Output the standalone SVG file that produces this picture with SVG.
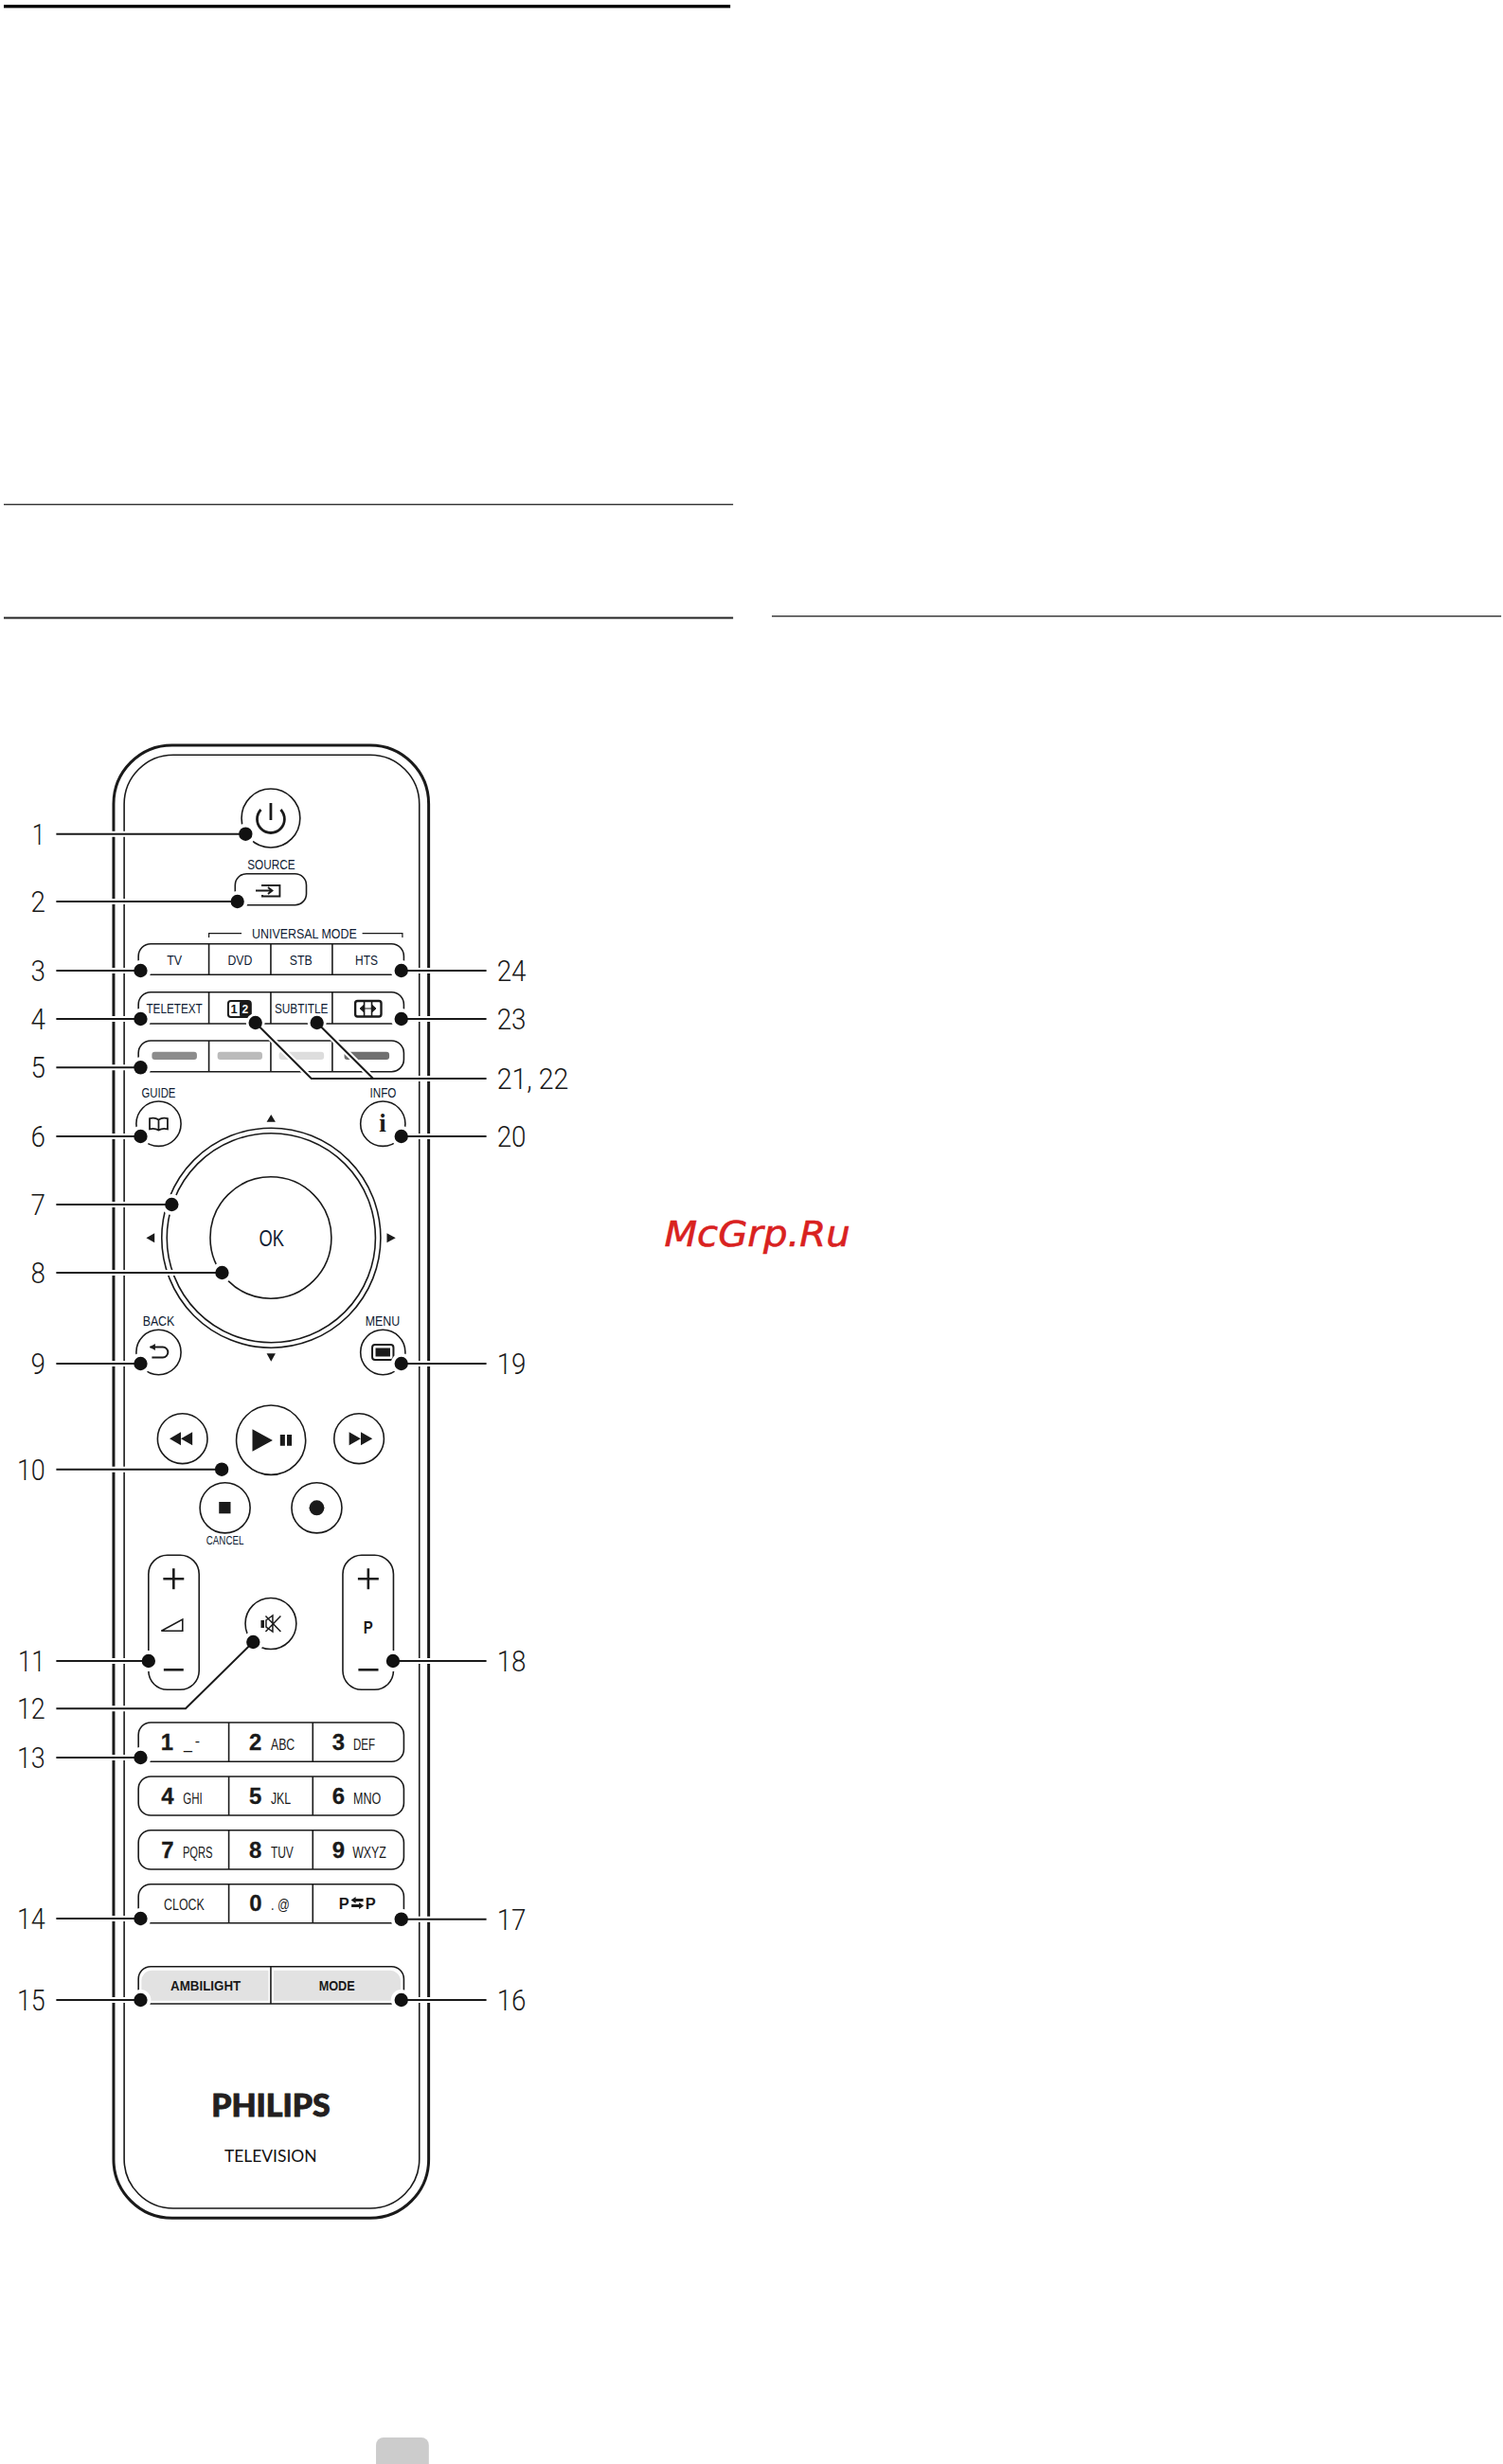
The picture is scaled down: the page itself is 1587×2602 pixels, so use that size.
<svg xmlns="http://www.w3.org/2000/svg" width="1587" height="2602" viewBox="0 0 1587 2602">
<style>
.o{fill:none;stroke:#1a1a1a;stroke-width:1.6}
.f{fill:#1a1a1a;stroke:none}
.ln{fill:none;stroke:#1a1a1a;stroke-width:2}
.halo{fill:none;stroke:#fff;stroke-width:6}
.t{font-family:"Liberation Sans Narrow","Liberation Sans",sans-serif;font-size:15.500px;fill:#0f1c33;text-anchor:middle}
.b{font-family:"Liberation Sans",sans-serif;font-weight:700;fill:#1a1a1a}
.d{font-family:"Liberation Sans",sans-serif;font-weight:700;font-size:24px;fill:#1a1a1a;stroke:#1a1a1a;stroke-width:.3;text-anchor:middle}
.s{font-family:"Liberation Sans Narrow","Liberation Sans",sans-serif;font-size:16px;fill:#1a1a1a}
.n{font-family:Roboto,Lato,sans-serif;font-weight:300;font-size:31px;fill:#1a1a1a}
.e{text-anchor:end}
</style>
<defs>
<path id="plus" d="M-11 0H11M0 -11V11" fill="none" stroke="#1a1a1a" stroke-width="2.600"/>
</defs>
<g transform="scale(.9963 1)">
<g id="page">
<rect x="4" y="5" width="770" height="3.400" fill="#000"/>
<rect x="4" y="532" width="773" height="1.400" fill="#333"/>
<rect x="4" y="651.500" width="773" height="2" fill="#222"/>
<rect x="818" y="650" width="773" height="1.400" fill="#333"/>
<text id="watermark" x="704" y="1316" font-family="DejaVu Sans,sans-serif" font-style="italic" font-size="38" fill="#d9211f" stroke="#d9211f" stroke-width=".6" textLength="197" lengthAdjust="spacingAndGlyphs">McGrp.Ru</text>
<path id="tab" d="M398.500 2602V2582a8 8 0 0 1 8-8H446.500a8 8 0 0 1 8 8V2602Z" fill="#cccccc"/>
</g>
<g id="body">
<rect x="120.400" y="787" width="333.900" height="1555.300" rx="62" ry="62" fill="none" stroke="#1a1a1a" stroke-width="3"/>
<rect x="131.600" y="797.300" width="312.800" height="1534.700" rx="52" ry="52" class="o"/>
<text x="287" y="2234.700" font-family="Lato,sans-serif" font-weight="900" font-size="33" text-anchor="middle" textLength="126" lengthAdjust="spacingAndGlyphs" fill="#231f20" stroke="#231f20" stroke-width=".9">PHILIPS</text>
<text x="286.800" y="2282.700" font-family="Lato,sans-serif" font-weight="400" font-size="18" text-anchor="middle" fill="#111" textLength="98" lengthAdjust="spacingAndGlyphs">TELEVISION</text>
</g>
<g id="btn-power">
<circle cx="287" cy="864" r="31" class="o"/>
<path d="M276.500 855a14.500 14.500 0 1 0 21 0" fill="none" stroke="#1a1a1a" stroke-width="2.800"/>
<path d="M287 848V866" fill="none" stroke="#1a1a1a" stroke-width="2.800"/>
</g>
<g id="btn-source">
<text x="287.400" y="918" class="t" textLength="50.500" lengthAdjust="spacingAndGlyphs">SOURCE</text>
<rect x="249.200" y="922.700" width="75.500" height="33" rx="12" class="o"/>
<path d="M278 936V935h18.500V946.500H278V945M271 940.500H288M284 937l4.500 3.500-4.500 3.500" fill="none" stroke="#1a1a1a" stroke-width="1.900"/>
</g>
<g id="universal-mode">
<path d="M221.400 990V985.700H256M384 985.700H426.500V990" fill="none" stroke="#1a1a1a" stroke-width="1.200"/>
<text x="322.600" y="991.300" class="t" textLength="111" lengthAdjust="spacingAndGlyphs">UNIVERSAL MODE</text>
</g>
<g id="row-device">
<rect x="146.700" y="996.700" width="281.300" height="32.600" rx="13" class="o"/>
<path d="M221.400 996.700V1029.300M287 996.700V1029.300M352.200 996.700V1029.300" class="o"/>
<text x="184.800" y="1019" class="t" textLength="16" lengthAdjust="spacingAndGlyphs">TV</text>
<text x="254.400" y="1019" class="t" textLength="26" lengthAdjust="spacingAndGlyphs">DVD</text>
<text x="319" y="1019" class="t" textLength="24" lengthAdjust="spacingAndGlyphs">STB</text>
<text x="388.400" y="1019" class="t" textLength="24" lengthAdjust="spacingAndGlyphs">HTS</text>
</g>
<g id="row-teletext">
<rect x="146.700" y="1047.700" width="281.300" height="33.300" rx="13" class="o"/>
<path d="M221.400 1047.700V1081M287 1047.700V1081M352.200 1047.700V1081" class="o"/>
<text x="184.800" y="1070" class="t" textLength="59.600" lengthAdjust="spacingAndGlyphs">TELETEXT</text>
<rect x="241.800" y="1057" width="24" height="17" rx="3" fill="#fff" stroke="#1a1a1a" stroke-width="2"/>
<rect x="254" y="1057" width="11.800" height="17" rx="2" fill="#1a1a1a"/>
<text x="248" y="1070.500" class="b" font-size="13" text-anchor="middle">1</text>
<text x="259.800" y="1070.500" class="b" font-size="12" text-anchor="middle" style="fill:#fff">2</text>
<text x="319.400" y="1070" class="t" textLength="56.800" lengthAdjust="spacingAndGlyphs">SUBTITLE</text>
<rect x="376.500" y="1057" width="27.500" height="16.500" rx="2.500" fill="#fff" stroke="#1a1a1a" stroke-width="2.400"/>
<path d="M382 1065H398M381.500 1065l4-3.500v7ZM398.500 1065l-4-3.500v7Z" fill="#1a1a1a" stroke="#1a1a1a" stroke-width="1"/>
<path d="M386 1057v16.500M394 1057v16.500" fill="none" stroke="#1a1a1a" stroke-width="1.600"/>
</g>
<g id="row-colour">
<rect x="146.700" y="1099" width="281.300" height="32.700" rx="13" class="o"/>
<path d="M221.400 1099V1131.700M287 1099V1131.700M352.200 1099V1131.700" class="o"/>
<rect x="161" y="1110.700" width="47.700" height="8.400" rx="3" fill="#8c8c8c"/>
<rect x="230.500" y="1110.700" width="47.500" height="8.400" rx="3" fill="#bbbbbb"/>
<rect x="295.700" y="1110.700" width="47.700" height="8.400" rx="3" fill="#dddddd"/>
<rect x="364.900" y="1110.700" width="47.700" height="8.400" rx="3" fill="#707070"/>
</g>
<g id="btn-guide">
<text x="168.100" y="1159.300" class="t" textLength="36" lengthAdjust="spacingAndGlyphs">GUIDE</text>
<circle cx="168.100" cy="1186.700" r="23.700" class="o"/>
<path d="M168.100 1193.500c-3-2-6.500-2-9.500-1.200V1181.200c3-.8 6.500-.8 9.500 1.300c3-2.100 6.500-2.100 9.500-1.300V1192.300c-3-.8-6.500-.8-9.500 1.200ZM168.100 1182.500V1193.500" fill="none" stroke="#1a1a1a" stroke-width="1.800"/>
</g>
<g id="btn-info">
<text x="406" y="1159.300" class="t" textLength="28" lengthAdjust="spacingAndGlyphs">INFO</text>
<circle cx="405.800" cy="1186.700" r="23.700" class="o"/>
<text x="405.400" y="1195" font-family="Liberation Serif,serif" font-weight="700" font-size="27" text-anchor="middle" fill="#1a1a1a">i</text>
</g>
<g id="btn-nav">
<circle cx="287.400" cy="1307.200" r="116" class="o"/>
<circle cx="287.400" cy="1307.200" r="110.500" class="o"/>
<path class="f" d="M287.300 1177l4.700 7.700h-9.400ZM155 1307.300l8.800-5v10ZM419.300 1307.300l-9.300-5v10ZM287.300 1437.700l-4.700-8.400h9.400Z"/>
</g>
<g id="btn-ok">
<circle cx="287" cy="1307" r="64.200" class="o"/>
<text x="287.700" y="1315.700" font-family="Liberation Sans Narrow,Liberation Sans,sans-serif" font-size="24" text-anchor="middle" fill="#0f1c33" textLength="26.600" lengthAdjust="spacingAndGlyphs">OK</text>
</g>
<g id="btn-back">
<text x="168.100" y="1400" class="t" textLength="33.800" lengthAdjust="spacingAndGlyphs">BACK</text>
<circle cx="168.100" cy="1428" r="23.700" class="o"/>
<path d="M159 1422.500H172.500a5 5 0 0 1 0 11H161" fill="none" stroke="#1a1a1a" stroke-width="2"/>
<path class="f" d="M158.500 1422.500l6-3.500v7Z"/>
</g>
<g id="btn-menu">
<text x="405.500" y="1400" class="t" textLength="36.600" lengthAdjust="spacingAndGlyphs">MENU</text>
<circle cx="405.800" cy="1428" r="23.700" class="o"/>
<rect x="394.500" y="1420" width="22.500" height="16" rx="3" fill="none" stroke="#1a1a1a" stroke-width="2"/>
<rect x="398" y="1423.500" width="15.500" height="9" fill="#1a1a1a"/>
</g>
<g id="btn-rewind">
<circle cx="193.400" cy="1519.200" r="26.400" class="o"/>
<path class="f" d="M179.700 1519.200l12-7v14ZM191.700 1519.200l12.200-7v14Z"/>
</g>
<g id="btn-play">
<circle cx="287.200" cy="1520.700" r="36.700" class="o"/>
<path class="f" d="M267.500 1509.300L289 1521 267.500 1532.700ZM296.900 1515H302V1526.700H296.900ZM304.100 1515H309.200V1526.700H304.100Z"/>
</g>
<g id="btn-forward">
<circle cx="380.500" cy="1519.200" r="26.400" class="o"/>
<path class="f" d="M370 1512.200l12.300 7-12.300 7ZM382.400 1512.200l12.300 7-12.300 7Z"/>
</g>
<g id="btn-stop">
<circle cx="238.500" cy="1592.300" r="26.600" class="o"/>
<rect x="232.100" y="1586" width="12.300" height="12.300" class="f"/>
<text x="238.500" y="1631.300" class="t" style="font-size:12px" textLength="39.700" lengthAdjust="spacingAndGlyphs">CANCEL</text>
</g>
<g id="btn-record">
<circle cx="335.700" cy="1592.300" r="26.600" class="o"/>
<circle cx="335.700" cy="1592.300" r="8" class="f"/>
</g>
<g id="btn-volume">
<rect x="157.400" y="1642.300" width="53.600" height="142" rx="20" class="o"/>
<use href="#plus" x="184" y="1667.300"/>
<path d="M173.500 1763.300H194.500" fill="none" stroke="#1a1a1a" stroke-width="2.600"/>
<path d="M171 1722.200L193.500 1710V1722.200Z" fill="none" stroke="#1a1a1a" stroke-width="1.600"/>
</g>
<g id="btn-mute">
<circle cx="287" cy="1714.500" r="27" class="o"/>
<rect x="276.500" y="1711" width="3.500" height="8" class="f"/>
<path d="M282 1711l7-5v17l-7-5ZM281.500 1706.500L297.500 1723M297.500 1706.500L281.500 1723" fill="none" stroke="#1a1a1a" stroke-width="1.500"/>
</g>
<g id="btn-channel">
<rect x="363.300" y="1642.300" width="53.700" height="142" rx="20" class="o"/>
<use href="#plus" x="390.300" y="1667.300"/>
<path d="M379.800 1763.300H401" fill="none" stroke="#1a1a1a" stroke-width="2.600"/>
<text x="390.300" y="1725" class="b" font-size="19" text-anchor="middle" fill="#0f1c33" textLength="10" lengthAdjust="spacingAndGlyphs">P</text>
</g>
<g id="keypad-1">
<rect x="146.700" y="1819" width="281.300" height="41.300" rx="13" class="o"/>
<path d="M242.500 1819V1860.300M331.500 1819V1860.300" class="o"/>
<text x="177" y="1848.300" class="d">1</text>
<text x="194.800" y="1847" class="s">_<tspan x="206.500" y="1844">-</tspan></text>
<text x="270.700" y="1848.300" class="d">2</text>
<text x="287" y="1848.300" class="s" textLength="25.400" lengthAdjust="spacingAndGlyphs">ABC</text>
<text x="358.700" y="1848.300" class="d">3</text>
<text x="374.400" y="1848.300" class="s" textLength="23.100" lengthAdjust="spacingAndGlyphs">DEF</text>
</g>
<g id="keypad-2">
<rect x="146.700" y="1876" width="281.300" height="41" rx="13" class="o"/>
<path d="M242.500 1876V1917M331.500 1876V1917" class="o"/>
<text x="177.500" y="1905" class="d">4</text>
<text x="194" y="1905" class="s" textLength="20.600" lengthAdjust="spacingAndGlyphs">GHI</text>
<text x="270.700" y="1905" class="d">5</text>
<text x="287" y="1905" class="s" textLength="21.400" lengthAdjust="spacingAndGlyphs">JKL</text>
<text x="358.700" y="1905" class="d">6</text>
<text x="374.400" y="1905" class="s" textLength="29.400" lengthAdjust="spacingAndGlyphs">MNO</text>
</g>
<g id="keypad-3">
<rect x="146.700" y="1932.700" width="281.300" height="41.300" rx="13" class="o"/>
<path d="M242.500 1932.700V1974M331.500 1932.700V1974" class="o"/>
<text x="177.500" y="1962" class="d">7</text>
<text x="193.600" y="1962" class="s" textLength="31.800" lengthAdjust="spacingAndGlyphs">PQRS</text>
<text x="270.700" y="1962" class="d">8</text>
<text x="287" y="1962" class="s" textLength="24" lengthAdjust="spacingAndGlyphs">TUV</text>
<text x="358.700" y="1962" class="d">9</text>
<text x="373.600" y="1962" class="s" textLength="35.800" lengthAdjust="spacingAndGlyphs">WXYZ</text>
</g>
<g id="keypad-4">
<rect x="146.700" y="1989.700" width="281.300" height="41" rx="13" class="o"/>
<path d="M242.500 1989.700V2030.700M331.500 1989.700V2030.700" class="o"/>
<text x="173.700" y="2016.700" class="s" textLength="42.900" lengthAdjust="spacingAndGlyphs">CLOCK</text>
<text x="271" y="2018.300" class="d">0</text>
<text x="287" y="2017" class="s" textLength="20" lengthAdjust="spacingAndGlyphs">. @</text>
<text x="359" y="2016.500" class="b" font-size="17" textLength="11" lengthAdjust="spacingAndGlyphs">P</text>
<text x="387.300" y="2016.500" class="b" font-size="17" textLength="11" lengthAdjust="spacingAndGlyphs">P</text>
<path class="f" d="M372 2006.500l5-3.500v2h8v3h-8v2ZM385.500 2012.500l-5-3.500v2h-8v3h8v2Z"/>
</g>
<g id="row-ambilight">
<rect x="146.700" y="2076.700" width="281.300" height="39.300" rx="13" class="o"/>
<path d="M150 2092a11 11 0 0 1 11-11.300H284.600V2112.700H160a10 10 0 0 1-10-10ZM290 2080.700H413a11.500 11.500 0 0 1 11.500 11.500V2102a10.700 10.700 0 0 1-10.700 10.700H290Z" fill="#e2e2e2"/>
<path d="M287 2076.700V2116" class="o"/>
<text x="218" y="2101.700" class="b" font-size="15" text-anchor="middle" textLength="74.400" lengthAdjust="spacingAndGlyphs">AMBILIGHT</text>
<text x="357" y="2101.700" class="b" font-size="15" text-anchor="middle" textLength="38.200" lengthAdjust="spacingAndGlyphs">MODE</text>
</g>
<g id="connectors">
<path class="halo" d="M59.600 880.700H260M59.600 952H251.600M59.600 1025H149M59.600 1076H149M59.600 1127.300H149M59.600 1200H149M59.600 1272H182M59.600 1344H235.300M59.600 1440H149M59.600 1551.700H235M59.600 1754H157.400M59.600 1804.300H196.700L268.300 1734M59.600 1856H149M59.600 2026H149M59.600 2112H149M515.500 1025H425.300M515.500 1076H425.300M515.500 1139H330L270.700 1080M395.500 1139L335.900 1080M515.500 1200H425.300M515.500 1440H425.300M515.500 1754H416.500M515.500 2026.700H425.300M515.500 2112H425.300"/>
<g fill="#fff">
<circle cx="260.300" cy="880.700" r="11"/><circle cx="251.600" cy="952" r="11"/><circle cx="149" cy="1025" r="11"/><circle cx="149" cy="1076" r="11"/><circle cx="149" cy="1127.300" r="11"/><circle cx="149" cy="1200" r="11"/><circle cx="182" cy="1272" r="11"/><circle cx="235.300" cy="1344" r="11"/><circle cx="149" cy="1440" r="11"/><circle cx="157.400" cy="1754" r="11"/><circle cx="268.300" cy="1734" r="11"/><circle cx="149" cy="1856" r="11"/><circle cx="149" cy="2026" r="11"/><circle cx="149" cy="2112" r="11"/><circle cx="425.300" cy="1025" r="11"/><circle cx="425.300" cy="1076" r="11"/><circle cx="270.700" cy="1080" r="10"/><circle cx="335.900" cy="1080" r="10"/><circle cx="425.300" cy="1200" r="11"/><circle cx="425.300" cy="1440" r="11"/><circle cx="416.500" cy="1754" r="11"/><circle cx="425.300" cy="2026.700" r="11"/><circle cx="425.300" cy="2112" r="11"/>
</g>
<path class="ln" d="M59.600 880.700H260M59.600 952H251.600M59.600 1025H149M59.600 1076H149M59.600 1127.300H149M59.600 1200H149M59.600 1272H182M59.600 1344H235.300M59.600 1440H149M59.600 1551.700H235M59.600 1754H157.400M59.600 1804.300H196.700L268.300 1734M59.600 1856H149M59.600 2026H149M59.600 2112H149M515.500 1025H425.300M515.500 1076H425.300M515.500 1139H330L270.700 1080M395.500 1139L335.900 1080M515.500 1200H425.300M515.500 1440H425.300M515.500 1754H416.500M515.500 2026.700H425.300M515.500 2112H425.300"/>
<g fill="#111">
<circle cx="260.300" cy="880.700" r="7.200"/><circle cx="251.600" cy="952" r="7.200"/><circle cx="149" cy="1025" r="7.200"/><circle cx="149" cy="1076" r="7.200"/><circle cx="149" cy="1127.300" r="7.200"/><circle cx="149" cy="1200" r="7.200"/><circle cx="182" cy="1272" r="7.200"/><circle cx="235.300" cy="1344" r="7.200"/><circle cx="149" cy="1440" r="7.200"/><circle cx="235" cy="1551.700" r="7.200"/><circle cx="157.400" cy="1754" r="7.200"/><circle cx="268.300" cy="1734" r="7.200"/><circle cx="149" cy="1856" r="7.200"/><circle cx="149" cy="2026" r="7.200"/><circle cx="149" cy="2112" r="7.200"/><circle cx="425.300" cy="1025" r="7.200"/><circle cx="425.300" cy="1076" r="7.200"/><circle cx="270.700" cy="1080" r="7.200"/><circle cx="335.900" cy="1080" r="7.200"/><circle cx="425.300" cy="1200" r="7.200"/><circle cx="425.300" cy="1440" r="7.200"/><circle cx="416.500" cy="1754" r="7.200"/><circle cx="425.300" cy="2026.700" r="7.200"/><circle cx="425.300" cy="2112" r="7.200"/>
</g>
</g>
<g id="callouts" transform="translate(0 1)">
<text x="48" y="891" class="n e" textLength="14" lengthAdjust="spacingAndGlyphs">1</text>
<text x="48" y="962" class="n e" textLength="15.500" lengthAdjust="spacingAndGlyphs">2</text>
<text x="48" y="1035" class="n e" textLength="15.500" lengthAdjust="spacingAndGlyphs">3</text>
<text x="48" y="1086" class="n e" textLength="15.500" lengthAdjust="spacingAndGlyphs">4</text>
<text x="48" y="1137.300" class="n e" textLength="15.500" lengthAdjust="spacingAndGlyphs">5</text>
<text x="48" y="1210" class="n e" textLength="15.500" lengthAdjust="spacingAndGlyphs">6</text>
<text x="48" y="1282" class="n e" textLength="15.500" lengthAdjust="spacingAndGlyphs">7</text>
<text x="48" y="1354" class="n e" textLength="15.500" lengthAdjust="spacingAndGlyphs">8</text>
<text x="48" y="1450" class="n e" textLength="15.500" lengthAdjust="spacingAndGlyphs">9</text>
<text x="48" y="1561.700" class="n e" textLength="30" lengthAdjust="spacingAndGlyphs">10</text>
<text x="48" y="1764" class="n e" textLength="29" lengthAdjust="spacingAndGlyphs">11</text>
<text x="48" y="1814.300" class="n e" textLength="30" lengthAdjust="spacingAndGlyphs">12</text>
<text x="48" y="1866" class="n e" textLength="30" lengthAdjust="spacingAndGlyphs">13</text>
<text x="48" y="2036" class="n e" textLength="30" lengthAdjust="spacingAndGlyphs">14</text>
<text x="48" y="2122" class="n e" textLength="30" lengthAdjust="spacingAndGlyphs">15</text>
<text x="526.600" y="2122" class="n" textLength="31" lengthAdjust="spacingAndGlyphs">16</text>
<text x="526.600" y="2036.700" class="n" textLength="31" lengthAdjust="spacingAndGlyphs">17</text>
<text x="526.600" y="1764" class="n" textLength="31" lengthAdjust="spacingAndGlyphs">18</text>
<text x="526.600" y="1450" class="n" textLength="31" lengthAdjust="spacingAndGlyphs">19</text>
<text x="526.600" y="1210" class="n" textLength="31" lengthAdjust="spacingAndGlyphs">20</text>
<text x="526.600" y="1149" class="n" textLength="76" lengthAdjust="spacingAndGlyphs">21, 22</text>
<text x="526.600" y="1086" class="n" textLength="31" lengthAdjust="spacingAndGlyphs">23</text>
<text x="526.600" y="1035" class="n" textLength="31" lengthAdjust="spacingAndGlyphs">24</text>
</g>
</g>
</svg>
